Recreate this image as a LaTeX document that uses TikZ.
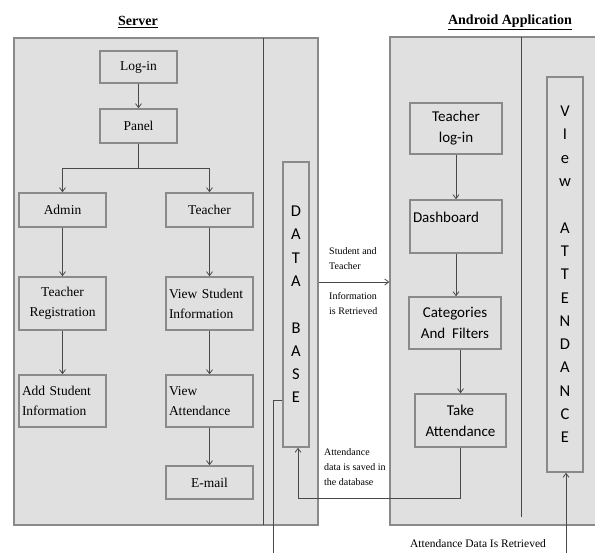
\documentclass[tikz,border=0pt]{standalone}
\usepackage{fontspec}
\setmainfont{Liberation Serif}
\newfontfamily\appfont{Carlito}
\usetikzlibrary{arrows.meta}
\definecolor{panelgray}{HTML}{E0E0E0}
\definecolor{edgegray}{HTML}{8A8A8A}
\definecolor{linegray}{HTML}{4A4A4A}
\tikzset{
  panel/.style={draw=edgegray, line width=1.3pt, fill=panelgray, inner sep=0pt},
  srvbox/.style={draw=edgegray, line width=1.5pt, fill=panelgray, minimum width=87pt, minimum height=34pt, inner sep=3pt, align=center, font=\fontsize{13.5}{20}\selectfont},
  appbox/.style={draw=edgegray, line width=1.5pt, fill=panelgray, minimum width=92pt, minimum height=52pt, inner sep=3pt, align=center, font=\appfont\fontsize{15}{21}\selectfont},
  colbox/.style={draw=edgegray, line width=1.5pt, fill=panelgray, inner sep=0pt, align=center, font=\appfont\fontsize{16.5}{23.3}\selectfont},
  title/.style={font=\bfseries\fontsize{14}{16}\selectfont},
  note/.style={inner sep=0pt, align=left, font=\fontsize{10}{15}\selectfont},
  link/.style={draw=linegray, line width=0.8pt},
  arr/.style={link, -{Straight Barb[length=4pt,width=6pt]}}
}
\begin{document}
\begin{tikzpicture}[x=1pt,y=-1pt]
\useasboundingbox (0,0) rectangle (595,553);
% panels
\node[panel, minimum width=304pt, minimum height=487pt] (server) at (166,281.5) {};
\node[panel, minimum width=220pt, minimum height=488pt] (android) at (500,281) {};
\draw[link] (263,38) -- (263,525);
\draw[link] (521,37) -- (521,517);
\node[title] (srvtitle) at (138,22) {\underline{Server}};
\node[title] (apptitle) at (510,22) {\underline{Android Application}};
% server side
\node[srvbox, minimum width=77pt, minimum height=32pt] (login) at (138.5,67) {Log-in};
\node[srvbox, minimum width=77pt] (panel) at (138.5,126) {Panel};
\node[srvbox] (admin) at (62.5,210) {Admin};
\node[srvbox] (teacher) at (209.5,210) {Teacher};
\node[srvbox, minimum height=53pt] (treg) at (62.5,303.5) {Teacher\\Registration};
\node[srvbox, minimum height=53pt, align=left, text width=81pt] (viewstu) at (209.5,303.5) {View Student\\Information};
\node[srvbox, minimum height=52pt, align=left, text width=81pt] (addstu) at (62.5,401) {Add Student\\Information};
\node[srvbox, minimum height=52pt, align=left, text width=81pt] (viewatt) at (209.5,401) {View\\Attendance};
\node[srvbox, minimum height=33pt] (email) at (209.5,482.5) {E-mail};
\draw[arr] (login) -- (panel);
\draw[arr] (panel.south) -- ++(0,25) -| (admin.north);
\draw[arr] (panel.south) -- ++(0,25) -| (teacher.north);
\draw[arr] (admin) -- (treg);
\draw[arr] (treg) -- (addstu);
\draw[arr] (teacher) -- (viewstu);
\draw[arr] (viewstu) -- (viewatt);
\draw[arr] (viewatt) -- (email);
% database
\node[colbox, minimum width=26pt, minimum height=285pt] (db) at (296,304.5) {D\\A\\T\\A\\[23.3pt]B\\A\\S\\E};
\coordinate (dbout) at (273,553);
\draw[link] (db.west |- 0,400) -| (dbout);
% android side
\node[appbox, minimum height=51pt] (tlogin) at (456,128.5) {Teacher\\log-in};
\node[appbox, minimum height=53pt, align=left, text width=86pt, text height=11pt, text depth=18pt] (dash) at (456,226.5) {Dashboard};
\node[appbox] (cat) at (455,323) {Categories\\And~~Filters};
\node[appbox, minimum width=91pt, minimum height=53pt] (take) at (460.5,420.5) {Take\\Attendance};
\draw[arr] (tlogin) -- (dash);
\draw[arr] (dash.south -| tlogin.south) -- (cat.north -| tlogin.south);
\draw[arr] (take.north |- cat.south) -- (take.north);
\node[colbox, minimum width=36pt, minimum height=395pt] (vatt) at (565,274.5) {V\\I\\e\\w\\[23.3pt]A\\T\\T\\E\\N\\D\\A\\N\\C\\E};
% transfers
\draw[arr] (server.east |- 0,282) -- (android.west |- 0,282);
\node[note, anchor=north west] (infoa) at (329,247) {Student and\\Teacher};
\node[note, anchor=north west] (infob) at (329,292) {Information\\is Retrieved};
\coordinate (dbturn) at (298,498);
\draw[arr] (take.south) |- (dbturn) -- (dbturn |- db.south);
\node[note, anchor=north west] (saved) at (324,448) {Attendance\\data is saved in\\the database};
\coordinate (vattin) at (566,553);
\draw[arr] (vattin) -- (vattin |- vatt.south);
\node[font=\fontsize{11.5}{14}\selectfont] (retrieved) at (478,544) {Attendance Data Is Retrieved};
\end{tikzpicture}
\end{document}
